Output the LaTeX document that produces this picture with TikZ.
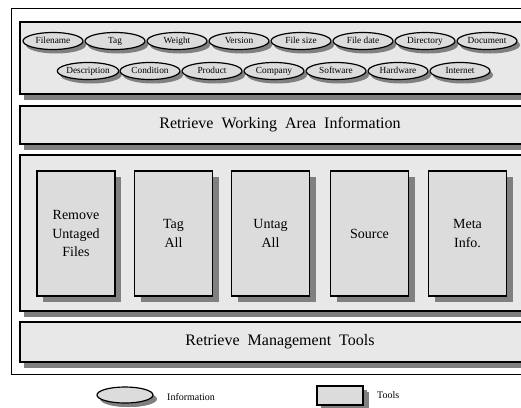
\documentclass[tikz,border=0pt]{standalone}
\usepackage{fontspec}
\setmainfont{Liberation Serif}
\usetikzlibrary{shapes.geometric,shadows}
\definecolor{panelfill}{HTML}{E8E8E8}
\definecolor{boxfill}{HTML}{DCDCDC}
\definecolor{shadowgray}{HTML}{808080}
\begin{document}
\begin{tikzpicture}[x=1pt,y=-1pt,
  info/.style={ellipse, draw, line width=1.2pt, fill=boxfill, minimum width=60pt, minimum height=17pt, inner sep=0pt,
    text height=6.5pt, text depth=1.5pt,
    font=\fontsize{9.3}{10}\selectfont,
    drop shadow={shadow xshift=3pt,shadow yshift=-4pt,fill=shadowgray,opacity=1}},
  panel/.style={rectangle, draw, line width=2pt, fill=panelfill, minimum width=520pt, inner sep=0pt,
    drop shadow={shadow xshift=4pt,shadow yshift=-6pt,fill=shadowgray,opacity=1}},
  band/.style={panel, line width=1.5pt, font=\fontsize{16}{18}\selectfont},
  toolbox/.style={rectangle, draw, line width=1.5pt, fill=boxfill, minimum width=78pt, minimum height=125pt,
    inner sep=0pt, align=center, font=\fontsize{14}{18.5}\selectfont,
    drop shadow={shadow xshift=6pt,shadow yshift=-6pt,fill=shadowgray,opacity=1}},
  legtext/.style={anchor=west, inner sep=0pt, font=\fontsize{10}{11}\selectfont}
]
\useasboundingbox (0,0) rectangle (521,407);
\clip (0,0) rectangle (521,407);
\node[draw, line width=1.4pt, minimum width=540pt, minimum height=366pt, inner sep=0pt, anchor=north west] (outer) at (11,8) {};
\node[panel, minimum height=72pt] (infopanel) at (280,58) {};
\node[band, minimum height=38pt] (working) at (280,125) {Retrieve~ Working~ Area~ Information};
\node[panel, minimum height=156pt] (toolpanel) at (280,233) {};
\node[band, minimum height=40pt] (mgmt) at (280,342) {Retrieve~ Management~ Tools};
% information ellipses
\node[info] (filename) at (53,41) {Filename};
\node[info] (tag) at (115,41) {Tag};
\node[info] (weight) at (177,41) {Weight};
\node[info] (version) at (239,41) {Version};
\node[info] (filesize) at (301,41) {File size};
\node[info] (filedate) at (363,41) {File date};
\node[info] (directory) at (425,41) {Directory};
\node[info] (document) at (487,41) {Document};
\node[info] (description) at (88,71) {Description};
\node[info] (condition) at (150,71) {Condition};
\node[info] (product) at (212,71) {Product};
\node[info] (company) at (274,71) {Company};
\node[info] (software) at (336,71) {Software};
\node[info] (hardware) at (398,71) {Hardware};
\node[info] (internet) at (460,71) {Internet};
% tools
\node[toolbox] (remove) at (76,233.5) {Remove\\Untaged\\Files};
\node[toolbox] (tagall) at (173.5,233.5) {Tag\\All};
\node[toolbox] (untagall) at (270.5,233.5) {Untag\\All};
\node[toolbox] (source) at (369.5,233.5) {Source};
\node[toolbox] (meta) at (467.5,233.5) {Meta\\Info.};
% legend
\node[info, minimum width=56pt, minimum height=16pt, drop shadow={shadow xshift=4pt,shadow yshift=-4pt,fill=shadowgray,opacity=1}] (legell) at (125,395) {};
\node[legtext] (leginfo) at (167,397) {Information};
\node[toolbox, minimum width=46pt, minimum height=19pt, drop shadow={shadow xshift=4pt,shadow yshift=-4pt,fill=shadowgray,opacity=1}] (legbox) at (340,395.5) {};
\node[legtext] (legtools) at (377,395) {Tools};
\end{tikzpicture}
\end{document}
